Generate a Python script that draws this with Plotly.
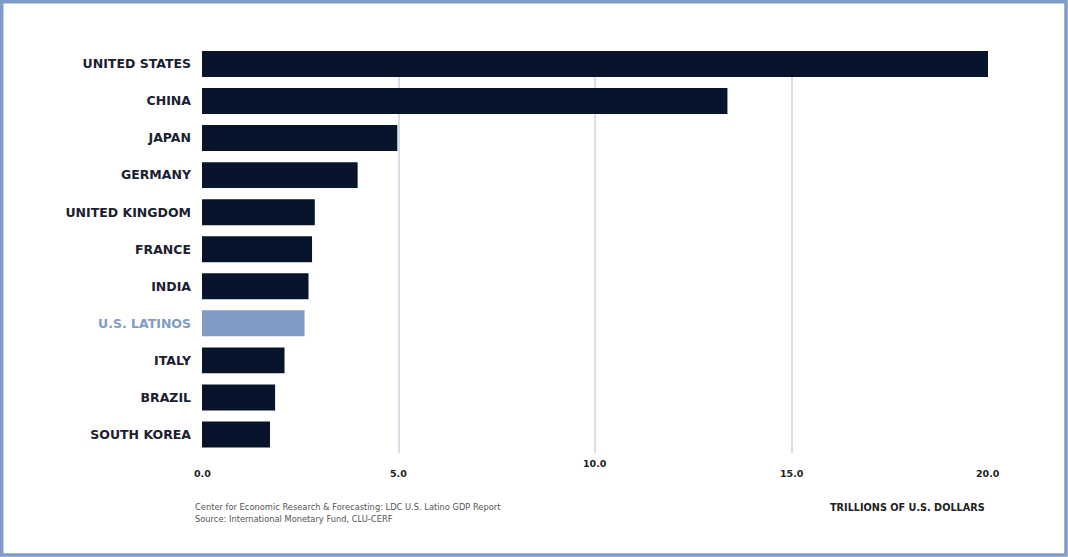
import plotly.graph_objects as go

countries = ["UNITED STATES", "CHINA", "JAPAN", "GERMANY", "UNITED KINGDOM", "FRANCE",
             "INDIA", "U.S. LATINOS", "ITALY", "BRAZIL", "SOUTH KOREA"]
gdp = [20.0, 13.37, 4.97, 3.96, 2.87, 2.80, 2.71, 2.61, 2.10, 1.86, 1.73]
highlight = "U.S. LATINOS"
x_ticks = [0, 5, 10, 15, 20]
x_tick_labels = ["0.0", "5.0", "10.0", "15.0", "20.0"]
x_tick_shift = [-20, -20, -10, -20, -20]
source_lines = ["Center for Economic Research &amp; Forecasting: LDC U.S. Latino GDP Report",
                "Source: International Monetary Fund, CLU-CERF"]

DARK = "#08142b"
LIGHT = "#7f9cc4"
LABEL = "#1b2030"

bar_colors = [LIGHT if c == highlight else DARK for c in countries]
tick_text = [f'<span style="color:{LIGHT}">{c}</span>' if c == highlight else c for c in countries]

W, H = 1068, 557
L, R, T, B = 202, 80, 51, 104
pw, ph = W - L - R, H - T - B

def px2paper_x(px):
    return (px - L) / pw

def px2paper_y(py):
    return (H - B - py) / ph

fig = go.Figure(go.Bar(
    x=gdp, y=countries, orientation="h",
    marker=dict(color=bar_colors, line=dict(width=0)),
    width=0.7, showlegend=False,
))

annotations = []
for v, t, s in zip(x_ticks, x_tick_labels, x_tick_shift):
    annotations.append(dict(x=v, y=0, xref="x", yref="paper", text=t, showarrow=False,
                            xanchor="center", yanchor="middle", yshift=s,
                            font=dict(family="DejaVu Sans", size=9.5, color="#222", weight="bold")))
annotations.append(dict(x=20, y=0, xref="x", yref="paper", text="TRILLIONS OF U.S. DOLLARS",
                        showarrow=False, xanchor="right", yanchor="middle", yshift=-54, xshift=-1,
                        font=dict(family="DejaVu Sans", size=9.7, color="#222", weight="bold")))
for i, line in enumerate(source_lines):
    annotations.append(dict(x=px2paper_x(193), y=0, xref="paper", yref="paper",
                            text=line, showarrow=False, xanchor="left", yanchor="middle",
                            yshift=-54 - 12 * i,
                            font=dict(family="DejaVu Sans", size=8.3, color="#555")))

fig.update_layout(
    width=W, height=H,
    margin=dict(l=L, r=R, t=T, b=B),
    paper_bgcolor="white", plot_bgcolor="white",
    bargap=0.3,
    xaxis=dict(range=[0, 20], tickvals=x_ticks[1:], showticklabels=False,
               showgrid=True, gridcolor="#d6e0ea", gridwidth=1.5, zeroline=False,
               showline=False, fixedrange=True),
    yaxis=dict(range=[10.5, -0.35], tickvals=countries, ticktext=tick_text,
               showgrid=False, zeroline=False, showline=False, ticks="",
               ticklabelstandoff=10, fixedrange=True,
               tickfont=dict(family="DejaVu Sans", size=12.5, color=LABEL, weight="bold")),
    annotations=annotations,
    shapes=[dict(type="rect", xref="paper", yref="paper",
                 x0=px2paper_x(1.7), x1=px2paper_x(1066), y0=px2paper_y(555), y1=px2paper_y(1.7),
                 line=dict(color="#7f9cc6", width=3.5), fillcolor="rgba(0,0,0,0)", layer="above")],
)

fig.write_html("out.html", config={"displayModeBar": False},
               post_script="document.body.style.margin='0';")
